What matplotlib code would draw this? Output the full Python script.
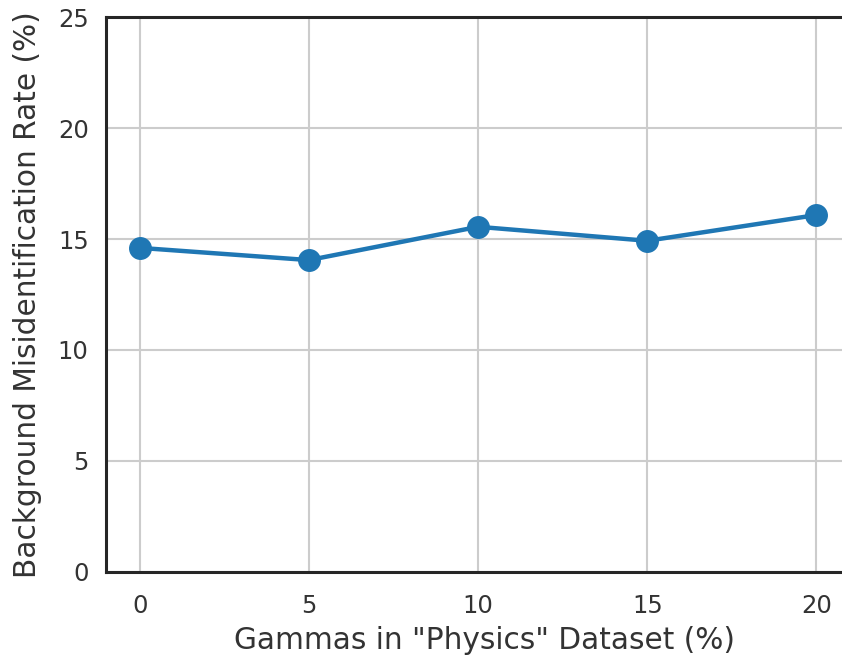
import matplotlib
matplotlib.use("Agg")
import matplotlib.pyplot as plt
import seaborn as sns

gamma_pct = [0, 5, 10, 15, 20]
misid_rate = [14.6, 14.05, 15.55, 14.92, 16.08]

sns.set_theme(style="whitegrid")
plt.rcParams['font.family'] = ['DejaVu Sans']

txt = "#333333"
fig = plt.figure(figsize=(8.42, 6.57), dpi=100)
# axes run a little past the right edge of the canvas
ax = fig.add_axes([0.1259, 0.1294, 0.90, 0.8447])

ax.plot(gamma_pct, misid_rate, color="#1f77b4", linewidth=3.2, marker="o", markersize=15.5)

ax.set_xlim(-1, 21.4)
ax.set_ylim(0, 25)
ax.set_xticks(gamma_pct)
ax.set_yticks([0, 5, 10, 15, 20, 25])
xpad = plt.rcParams['xtick.major.pad']
ypad = plt.rcParams['ytick.major.pad']
ax.tick_params(axis="x", labelsize=17.5, colors=txt, pad=xpad + 6)
ax.tick_params(axis="y", labelsize=17.5, colors=txt, pad=ypad + 3)
ax.set_xlabel('Gammas in "Physics" Dataset (%)', fontsize=21.3, color=txt, labelpad=6)
ax.set_ylabel("Background Misidentification Rate (%)", fontsize=21.3, color=txt, labelpad=11)
ax.grid(True, color="#cccccc", linewidth=1.5)
for s in ax.spines.values():
    s.set_color("#262626")
    s.set_linewidth(2.2)

fig.savefig("out.png", dpi=100)
